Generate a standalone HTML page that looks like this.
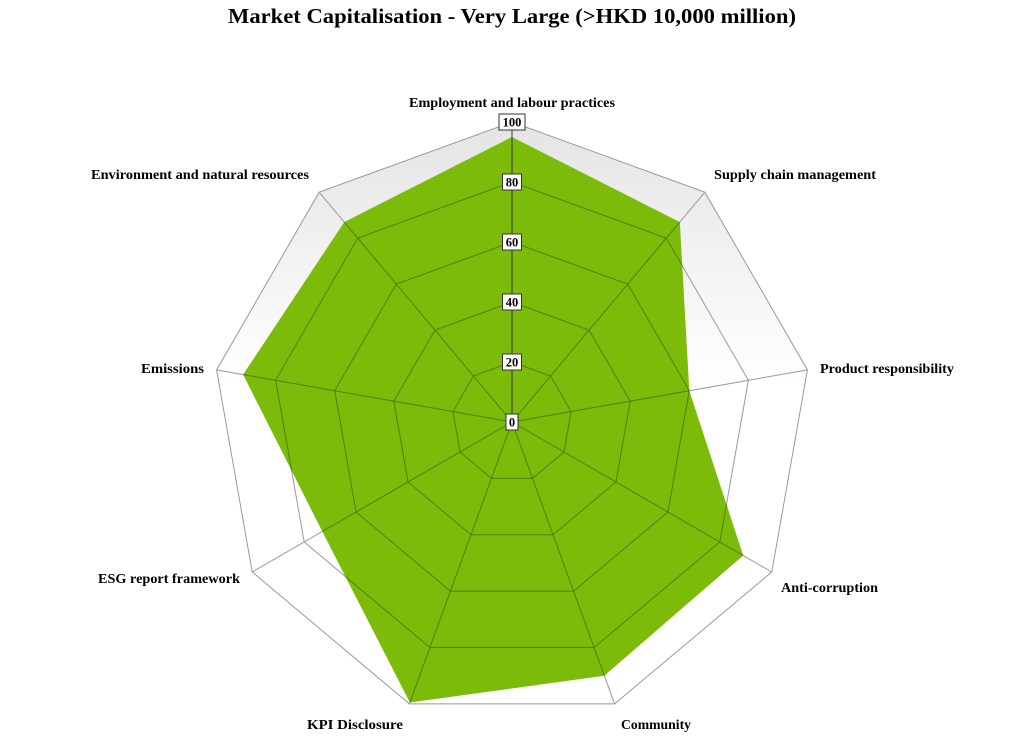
<!DOCTYPE html>
<html><head><meta charset="utf-8"><style>
body{margin:0;background:#fff;}
svg{display:block;font-family:"Liberation Serif",serif;}
</style></head><body>
<svg id="s" width="1024" height="753" xmlns="http://www.w3.org/2000/svg">
<defs><linearGradient id="g" x1="0" y1="0" x2="0" y2="1">
<stop offset="0" stop-color="#e4e4e4"/><stop offset="0.45" stop-color="#ffffff"/></linearGradient>
<clipPath id="cp"><polygon id="cpp" points=""/></clipPath></defs>
<text x="512" y="23" text-anchor="middle" font-size="21" font-weight="bold" fill="#000" textLength="568" lengthAdjust="spacingAndGlyphs">Market Capitalisation - Very Large (&gt;HKD 10,000 million)</text>
<g id="c"></g>
<g font-size="14" font-weight="bold">
<text x="512" y="107" text-anchor="middle" textLength="206" lengthAdjust="spacingAndGlyphs">Employment and labour practices</text>
<text x="714" y="179" textLength="162" lengthAdjust="spacingAndGlyphs">Supply chain management</text>
<text x="820" y="373" textLength="134" lengthAdjust="spacingAndGlyphs">Product responsibility</text>
<text x="781" y="592" textLength="97" lengthAdjust="spacingAndGlyphs">Anti-corruption</text>
<text x="656" y="729" text-anchor="middle" textLength="70" lengthAdjust="spacingAndGlyphs">Community</text>
<text x="355" y="729" text-anchor="middle" textLength="96" lengthAdjust="spacingAndGlyphs">KPI Disclosure</text>
<text x="240" y="583" text-anchor="end" textLength="142" lengthAdjust="spacingAndGlyphs">ESG report framework</text>
<text x="204" y="373" text-anchor="end" textLength="63" lengthAdjust="spacingAndGlyphs">Emissions</text>
<text x="309" y="179" text-anchor="end" textLength="218" lengthAdjust="spacingAndGlyphs">Environment and natural resources</text>
</g>
</svg>
<script>
var cx=512,cy=422,R=300,n=9,g=document.getElementById('c'),h='';
function pt(i,r){var a=i*40*Math.PI/180;return [cx+r*Math.sin(a),cy-r*Math.cos(a)];}
function poly(r){var p=[];for(var i=0;i<n;i++){var q=pt(i,r);p.push(q[0].toFixed(1)+','+q[1].toFixed(1));}return p.join(' ');}
h+='<polygon points="'+poly(R)+'" fill="url(#g)" stroke="#999" stroke-width="1"/>';
for(var i=0;i<n;i++){var q=pt(i,R);h+='<line x1="'+cx+'" y1="'+cy+'" x2="'+q[0]+'" y2="'+q[1]+'" stroke="#999"/>';}
for(var k=1;k<5;k++)h+='<polygon points="'+poly(R*k/5)+'" fill="none" stroke="#999"/>';
var v=[95,87,60,89,90,99.5,73,91,87],p=[];
for(var i=0;i<n;i++){var q=pt(i,R*v[i]/100);p.push(q[0].toFixed(1)+','+q[1].toFixed(1));}
document.getElementById('cpp').setAttribute('points',p.join(' '));
h+='<polygon points="'+p.join(' ')+'" fill="#7cbb0a"/>';
h+='<g clip-path="url(#cp)">';
for(var k=1;k<5;k++)h+='<polygon points="'+poly(R*k/5)+'" fill="none" stroke="#3d6a05" stroke-opacity="0.7"/>';
for(var i=0;i<n;i++){var q=pt(i,R);h+='<line x1="'+cx+'" y1="'+cy+'" x2="'+q[0]+'" y2="'+q[1]+'" stroke="#3d6a05" stroke-opacity="0.7"/>';}
h+='</g>';
h+='<line x1="512" y1="422" x2="512" y2="122" stroke="#333"/>';
for(var k=0;k<=5;k++){var y=cy-R*k/5,t=String(k*20),w=t.length*7+5;
h+='<rect x="'+(512-w/2)+'" y="'+(y-8)+'" width="'+w+'" height="16" fill="#fff" stroke="#333"/>';
h+='<text x="512" y="'+(y+4.5)+'" text-anchor="middle" font-size="12.5" font-weight="bold">'+t+'</text>';}
g.innerHTML=h;
</script>
</body></html>
